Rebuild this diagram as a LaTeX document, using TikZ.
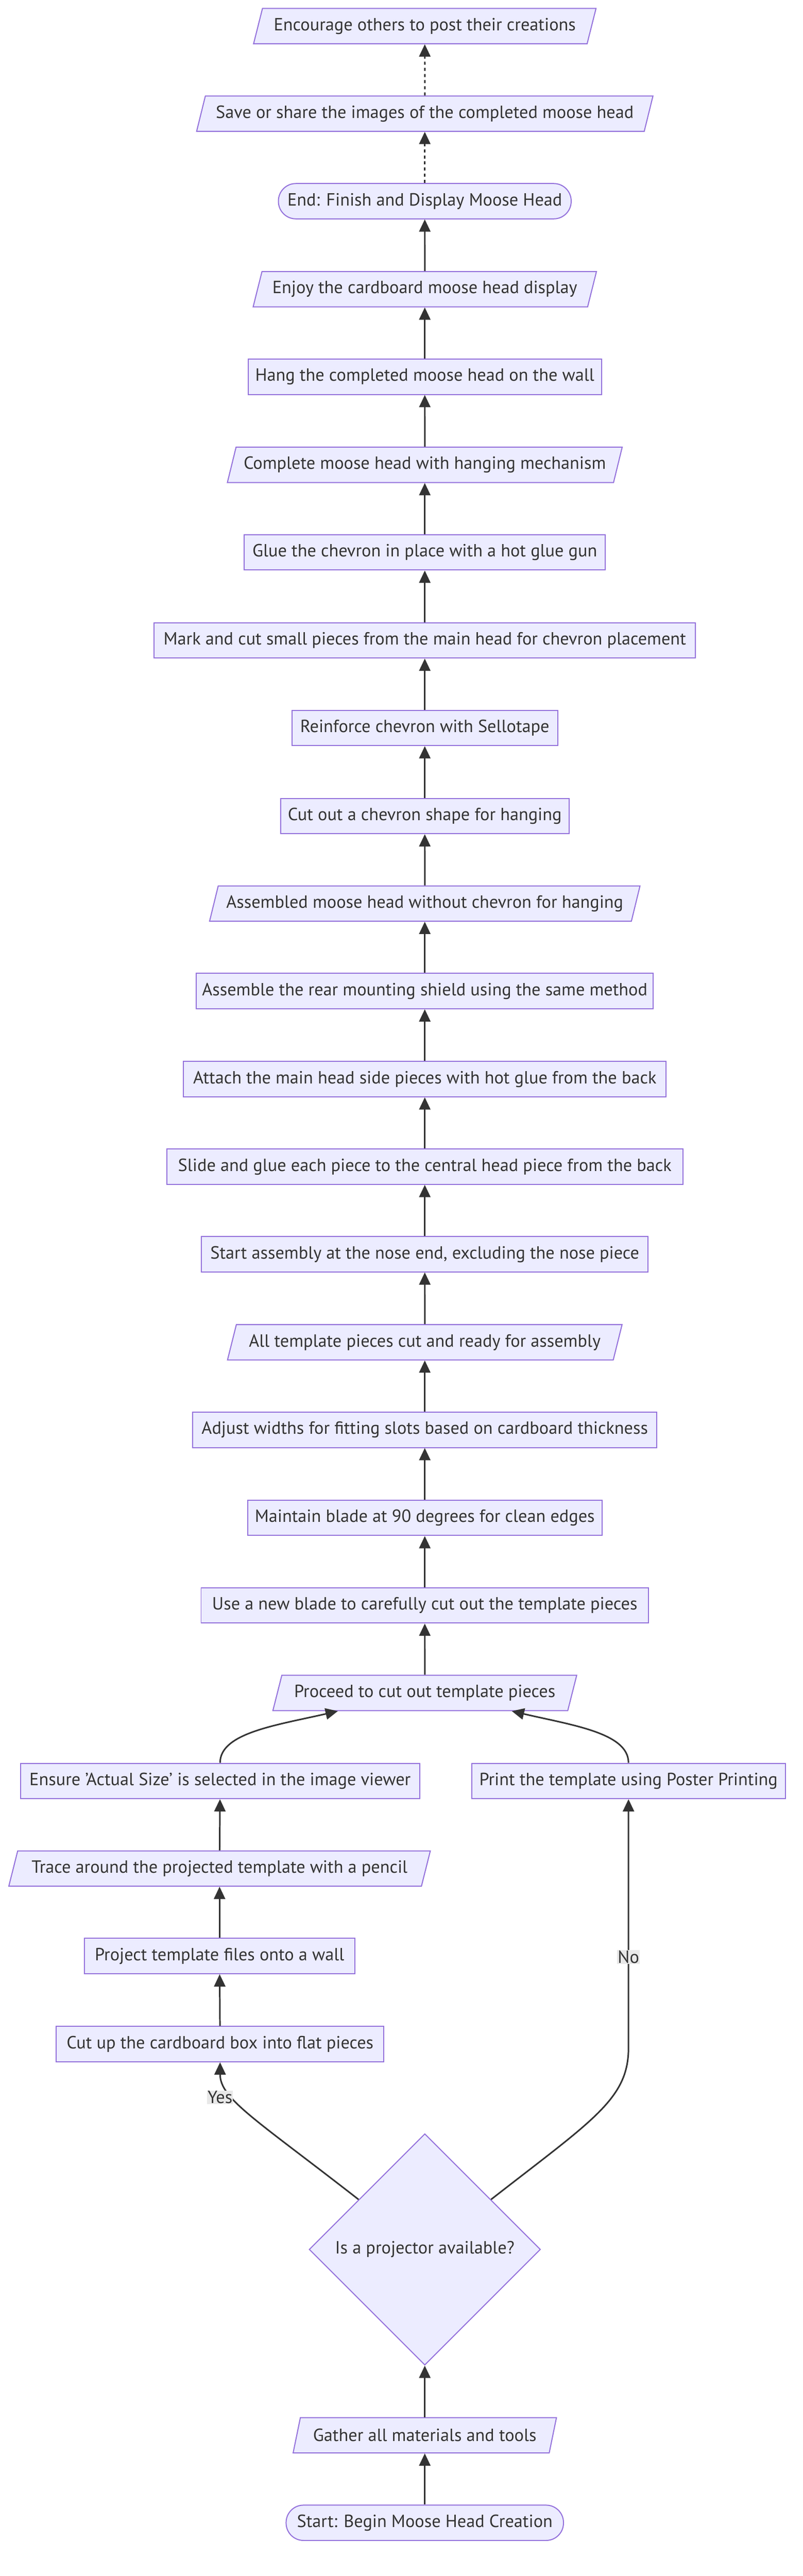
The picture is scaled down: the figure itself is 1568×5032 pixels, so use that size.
\documentclass[tikz,border=0pt]{standalone}
\usepackage{fontspec}
\setmainfont{PT Sans}
\usetikzlibrary{shapes.geometric,arrows.meta,calc}
\definecolor{nodefill}{HTML}{ECECFF}
\definecolor{nodeline}{HTML}{9370DB}
\definecolor{ink}{HTML}{333333}
\definecolor{lblbg}{HTML}{E8E8E8}
\tikzset{
  base/.style={draw=nodeline, fill=nodefill, line width=2pt, text=ink,
    font=\fontsize{34.5}{40}\selectfont, inner sep=0pt, minimum height=69pt},
  proc/.style={base, rectangle},
  term/.style={base, rectangle, rounded corners=34pt},
  io/.style={base, trapezium, trapezium left angle=63, trapezium right angle=117,
    trapezium stretches=true},
  dec/.style={base, diamond, minimum width=452pt, minimum height=452pt},
  arr/.style={draw=ink, line width=3pt, -{Triangle[length=24pt,width=22pt]}},
  dotarr/.style={arr, dash pattern=on 6pt off 6pt},
  lbl/.style={fill=lblbg, text=ink, font=\fontsize{34.5}{40}\selectfont, inner sep=1pt}
}
\begin{document}
\begin{tikzpicture}[x=1pt,y=-1pt]
\useasboundingbox (0,0) rectangle (1568,5032);
% main column
\node[io, minimum width=671pt] (enc) at (830,51) {Encourage others to post their creations};
\node[io, minimum width=894pt] (save) at (830,222) {Save or share the images of the completed moose head};
\node[term, minimum width=572pt] (endn) at (830,393) {End: Finish and Display Moose Head};
\node[io, minimum width=673pt] (enjoy) at (830,565) {Enjoy the cardboard moose head display};
\node[proc, minimum width=690pt] (hang) at (830,736) {Hang the completed moose head on the wall};
\node[io, minimum width=776pt] (compl) at (830,908) {Complete moose head with hanging mechanism};
\node[proc, minimum width=705pt] (glue) at (830,1079) {Glue the chevron in place with a hot glue gun};
\node[proc, minimum width=1058pt] (mark) at (830,1251) {Mark and cut small pieces from the main head for chevron placement};
\node[proc, minimum width=519pt] (reinf) at (830,1422) {Reinforce chevron with Sellotape};
\node[proc, minimum width=564pt] (chev) at (830,1594) {Cut out a chevron shape for hanging};
\node[io, minimum width=842pt] (asmd) at (830,1765) {Assembled moose head without chevron for hanging};
\node[proc, minimum width=893pt] (rear) at (830,1936) {Assemble the rear mounting shield using the same method};
\node[proc, minimum width=943pt] (attach) at (830,2108) {Attach the main head side pieces with hot glue from the back};
\node[proc, minimum width=1008pt] (slide) at (830,2279) {Slide and glue each piece to the central head piece from the back};
\node[proc, minimum width=873pt] (startasm) at (830,2450) {Start assembly at the nose end, excluding the nose piece};
\node[io, minimum width=772pt] (allt) at (830,2622) {All template pieces cut and ready for assembly};
\node[proc, minimum width=907pt] (adjust) at (830,2793) {Adjust widths for fitting slots based on cardboard thickness};
\node[proc, minimum width=692pt] (maint) at (830,2965) {Maintain blade at 90 degrees for clean edges};
\node[proc, minimum width=874pt] (blade) at (830,3136) {Use a new blade to carefully cut out the template pieces};
\node[io, minimum width=598pt] (proceed) at (830,3307) {Proceed to cut out template pieces};
% branches
\node[proc, minimum width=780pt] (ensure) at (430,3479) {Ensure 'Actual Size' is selected in the image viewer};
\node[proc, minimum width=613pt] (print) at (1228,3479) {Print the template using Poster Printing};
\node[io, minimum width=828pt] (trace) at (429,3650) {Trace around the projected template with a pencil};
\node[proc, minimum width=528pt] (project) at (429,3821) {Project template files onto a wall};
\node[proc, minimum width=640pt] (cutup) at (430,3993) {Cut up the cardboard box into flat pieces};
\node[dec] (dec) at (830,4394) {Is a projector available?};
\node[io, minimum width=518pt] (gather) at (830,4757) {Gather all materials and tools};
\node[term, minimum width=542pt] (start) at (830,4928) {Start: Begin Moose Head Creation};
% connectors
\draw[arr] (start) -- (gather);
\draw[arr] (gather) -- (dec);
\draw[arr] (dec.143) .. controls (500,4140) and (430,4100) .. (cutup.south);
\node[lbl] (yes) at (430,4097) {Yes};
\draw[arr] (dec.37) .. controls (1160,4140) and (1228,4100) .. (1228,4000) -- (print.south)
  node[lbl, pos=0.365] (no) {No};
\draw[arr] (cutup) -- (project);
\draw[arr] (project) -- (trace);
\draw[arr] (trace) -- (ensure);
\draw[arr] (ensure.north) .. controls (430,3385) and (540,3370) .. ([xshift=-170pt]proceed.south);
\draw[arr] (print.north) .. controls (1228,3385) and (1118,3370) .. ([xshift=170pt]proceed.south);
\draw[arr] (proceed) -- (blade);
\draw[arr] (blade) -- (maint);
\draw[arr] (maint) -- (adjust);
\draw[arr] (adjust) -- (allt);
\draw[arr] (allt) -- (startasm);
\draw[arr] (startasm) -- (slide);
\draw[arr] (slide) -- (attach);
\draw[arr] (attach) -- (rear);
\draw[arr] (rear) -- (asmd);
\draw[arr] (asmd) -- (chev);
\draw[arr] (chev) -- (reinf);
\draw[arr] (reinf) -- (mark);
\draw[arr] (mark) -- (glue);
\draw[arr] (glue) -- (compl);
\draw[arr] (compl) -- (hang);
\draw[arr] (hang) -- (enjoy);
\draw[arr] (enjoy) -- (endn);
\draw[dotarr] (endn) -- (save);
\draw[dotarr] (save) -- (enc);
\end{tikzpicture}
\end{document}
